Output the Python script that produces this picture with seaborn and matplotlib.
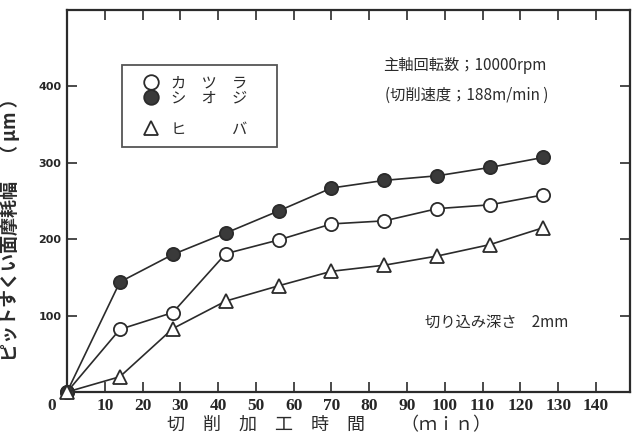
import matplotlib
matplotlib.use("Agg")
import matplotlib.pyplot as plt
import seaborn as sns
import pandas as pd
from matplotlib.lines import Line2D

# ==== data ====
time_min = [0, 14, 28, 42, 56, 70, 84, 98, 112, 126]
katsura = [0, 82, 104, 181, 199, 220, 224, 240, 245, 258]
shioji = [0, 144, 180, 208, 237, 267, 277, 283, 294, 307]
hiba = [0, 20, 83, 119, 139, 158, 166, 178, 193, 215]
species = ["カツラ", "シオジ", "ヒバ"]
legend_labels = ["カ　ツ　ラ", "シ　オ　ジ", "ヒ　　　バ"]
x_ticks = list(range(10, 150, 10))
y_ticks = [100, 200, 300, 400]

sns.set_theme(style="ticks")
plt.rcParams["font.family"] = ["Noto Sans CJK JP", "DejaVu Sans"]

ink = "#2b2b2b"

df = pd.DataFrame({
    "time": time_min * 3,
    "width": katsura + shioji + hiba,
    "species": [s for s in species for _ in time_min],
})

marker_style = {
    "カツラ": dict(marker="o", markerfacecolor="white"),
    "シオジ": dict(marker="o", markerfacecolor="#3a3a3a"),
    "ヒバ": dict(marker="^", markerfacecolor="white"),
}

fig = plt.figure(figsize=(6.33, 4.43), dpi=100)
ax = fig.add_axes([67 / 633, 51 / 443, 563 / 633, 382 / 443])

for name in species:
    sns.lineplot(data=df[df["species"] == name], x="time", y="width", ax=ax,
                 color=ink, lw=1.2, markersize=9.5, markeredgecolor=ink,
                 markeredgewidth=1.3, clip_on=False, zorder=3, legend=False,
                 errorbar=None, **marker_style[name])

ax.set_xlim(0, 149)
ax.set_ylim(0, 500)
ax.set_xticks(x_ticks)
ax.set_yticks(y_ticks)
ax.tick_params(direction="in", length=7, width=1.2, color=ink,
               top=True, right=True, pad=4)
for lab in ax.get_xticklabels():
    lab.set_fontfamily("Liberation Serif")
    lab.set_fontweight("bold")
    lab.set_fontsize(12.5)
for lab in ax.get_yticklabels():
    lab.set_fontfamily("DejaVu Sans")
    lab.set_fontsize(8)
    lab.set_fontweight("bold")
for sp in ax.spines.values():
    sp.set_linewidth(1.6)
    sp.set_color(ink)

ax.annotate("0", xy=(0, 0), xytext=(-11, -4), textcoords="offset points",
            ha="center", va="top", fontsize=12.5, fontweight="bold",
            family="Liberation Serif", color=ink, annotation_clip=False)

ax.set_xlabel("切　削　加　工　時　間　　（ｍｉｎ）", fontsize=13, color=ink)
ax.xaxis.set_label_coords((329 - 67) / 563, (392 - 425) / 382)
ax.xaxis.label.set_va("center")
ax.set_ylabel("ピットすくい面摩耗幅　（ μm ）", fontsize=13, color=ink,
              fontweight="bold")
ax.yaxis.set_label_coords(-47 / 563, 0.437)

# legend with a gap row before ヒバ
handles = [
    Line2D([], [], ls="none", marker="o", markersize=10.5, markerfacecolor="white",
           markeredgecolor=ink, markeredgewidth=1.3),
    Line2D([], [], ls="none", marker="o", markersize=10.5, markerfacecolor="#3a3a3a",
           markeredgecolor=ink, markeredgewidth=1.3),
    Line2D([], [], ls="none"),
    Line2D([], [], ls="none", marker="^", markersize=10.5, markerfacecolor="white",
           markeredgecolor=ink, markeredgewidth=1.3),
]
labels = [legend_labels[0], legend_labels[1], " ", legend_labels[2]]
leg = ax.legend(handles, labels, loc="upper left",
                bbox_to_anchor=(0.098, 0.856, 0.275, 0.0), mode="expand",
                fontsize=11, frameon=True, fancybox=False, borderpad=0.6,
                labelspacing=-0.1, handlelength=2.6, handletextpad=0.0,
                borderaxespad=0)
leg.get_frame().set_edgecolor(ink)
leg.get_frame().set_linewidth(1.3)
for t in leg.get_texts():
    t.set_color(ink)

ax.text(0.561, 0.856, "主軸回転数；10000rpm", transform=ax.transAxes,
        fontsize=11, va="center", ha="left", color=ink)
ax.text(0.565, 0.777, "(切削速度；188m/min )", transform=ax.transAxes,
        fontsize=11, va="center", ha="left", color=ink)
ax.text(0.636, 0.183, "切り込み深さ　2mm", transform=ax.transAxes,
        fontsize=11, va="center", ha="left", color=ink)

fig.savefig("out.png", dpi=100)
